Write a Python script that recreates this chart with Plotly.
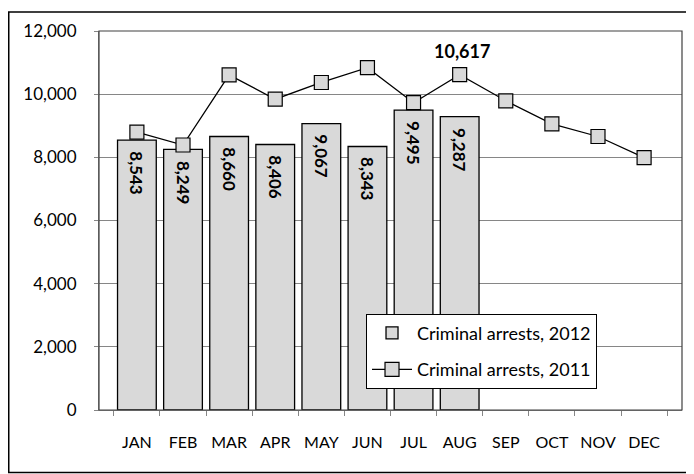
import plotly.graph_objects as go

months = ["JAN", "FEB", "MAR", "APR", "MAY", "JUN", "JUL", "AUG", "SEP", "OCT", "NOV", "DEC"]
arrests_2012 = [8543, 8249, 8660, 8406, 9067, 8343, 9495, 9287]
arrests_2011 = [8800, 8390, 10610, 9840, 10370, 10840, 9730, 10617, 9790, 9060, 8660, 7990]
labels_2012 = [f"{v:,}" for v in arrests_2012]
y_ticks = [0, 2000, 4000, 6000, 8000, 10000, 12000]

FONT = "Lato"
fig = go.Figure()
fig.add_trace(go.Bar(
    x=months[:len(arrests_2012)], y=arrests_2012, name="Criminal arrests, 2012",
    marker=dict(color="#d9d9d9", line=dict(color="black", width=1.3)),
    legendgroup="a",
))
fig.add_trace(go.Scatter(
    x=months, y=arrests_2011, name="Criminal arrests, 2011", mode="lines+markers",
    line=dict(color="black", width=1.3),
    marker=dict(symbol="square", size=14, color="#d9d9d9", line=dict(color="black", width=1.2)),
    legendgroup="b",
))
for m, v, t in zip(months, arrests_2012, labels_2012):
    fig.add_annotation(x=m, y=v, text=f"<b>{t}</b>", showarrow=False, textangle=90,
                       xanchor="center", yanchor="top", yshift=-9,
                       font=dict(family=FONT, size=17, color="black"))
fig.add_annotation(x="AUG", y=arrests_2011[7], text="<b>10,617</b>", showarrow=False,
                   yshift=24, xshift=2, font=dict(family=FONT, size=18, color="black"))

# outer frame and plot border
fig.add_shape(type="rect", xref="paper", yref="paper", x0=-0.1548, x1=1.0172, y0=-0.165, y1=1.0504,
              line=dict(color="black", width=1.5), layer="below")
fig.add_shape(type="rect", xref="paper", yref="paper", x0=0, x1=1, y0=0, y1=1,
              line=dict(color="#404040", width=1.2), layer="above")

fig.update_layout(
    width=686, height=466,
    margin=dict(l=91, r=12, t=20, b=64),
    paper_bgcolor="white", plot_bgcolor="white",
    font=dict(family=FONT, size=16, color="black"),
    bargap=0.16, showlegend=True,
    legend=dict(x=0.458, y=0.254, xanchor="left", yanchor="top",
                bordercolor="black", borderwidth=1, bgcolor="white",
                font=dict(family=FONT, size=18), itemwidth=40,
                tracegroupgap=10),
)
fig.update_xaxes(type="category", categoryorder="array", categoryarray=months,
                 showgrid=False, showline=True, linecolor="#868686", linewidth=1.2,
                 ticks="outside", tickson="boundaries", ticklen=5, tickcolor="#868686",
                 ticklabelstandoff=18, tickfont=dict(family=FONT, size=16))
fig.update_yaxes(range=[0, 12000], tickvals=y_ticks, tickformat=",d",
                 showgrid=True, gridcolor="#868686", gridwidth=1,
                 showline=True, linecolor="#868686", linewidth=1.2,
                 ticks="outside", ticklen=4, tickcolor="#868686",
                 ticklabelstandoff=14, tickfont=dict(family=FONT, size=17), zeroline=False)

fig.write_html("out.html")
